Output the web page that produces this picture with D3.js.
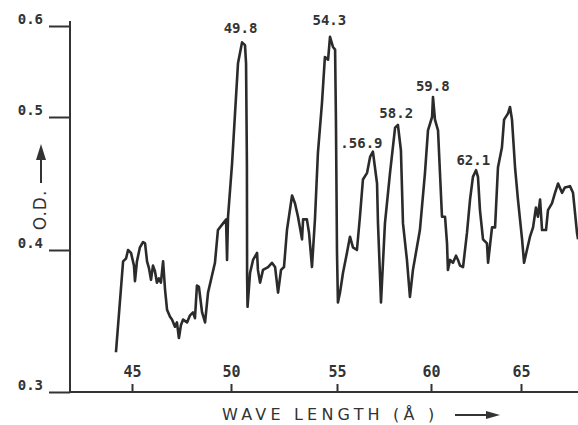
<!DOCTYPE html>
<html>
<meta charset="utf-8">
<title>O.D. spectrum</title>
<style>
  body { margin: 0; background: #fff; }
  .curve { fill: none; stroke: #2b2b2b; stroke-width: 2.6px; stroke-linejoin: round; }
  .axis line, .axis path, .axline { stroke: #333; stroke-width: 2px; }
  .axis text, .peak { font-family: "DejaVu Sans Mono", monospace; font-weight: bold; fill: #333; }
  .title { font-family: "DejaVu Sans", sans-serif; fill: #333; }
</style>
<body>
<script src="https://cdnjs.cloudflare.com/ajax/libs/d3/7.8.5/d3.min.js"></script>
<script>
// tick positions as printed on the chart
var xTicks = [45, 50, 55, 60, 65];
var yTicks = [0.3, 0.4, 0.5, 0.6];

// trace: wave length (A) and optical density
var wave = [44.19, 44.55, 44.70, 44.80, 44.95, 45.10, 45.15, 45.25, 45.40, 45.56,
  45.66, 45.76, 45.86, 45.96, 46.06, 46.16, 46.26, 46.36, 46.46, 46.57,
  46.67, 46.77, 46.92, 47.02, 47.17, 47.27, 47.37, 47.47, 47.58, 47.78,
  47.93, 48.08, 48.18, 48.28, 48.38, 48.54, 48.69, 48.84, 49.04, 49.19,
  49.34, 49.60, 49.75, 49.80, 49.85, 50.05, 50.19, 50.33, 50.52, 50.66,
  50.71, 50.75, 50.76, 50.78, 50.90, 51.04, 51.23, 51.27, 51.37, 51.51,
  51.75, 51.93, 52.08, 52.22, 52.36, 52.50, 52.64, 52.88, 53.02, 53.16,
  53.25, 53.35, 53.40, 53.58, 53.68, 53.82, 53.96, 54.10, 54.29, 54.43,
  54.58, 54.67, 54.81, 54.91, 54.95, 55.00, 55.05, 55.16, 55.32, 55.53,
  55.69, 55.85, 56.06, 56.22, 56.38, 56.60, 56.76, 56.91, 57.13, 57.18,
  57.29, 57.34, 57.55, 57.82, 58.09, 58.24, 58.40, 58.51, 58.72, 58.88,
  59.04, 59.41, 59.68, 59.84, 60.06, 60.11, 60.22, 60.39, 60.61, 60.78,
  60.89, 60.94, 61.06, 61.22, 61.39, 61.50, 61.61, 61.78, 62.00, 62.17,
  62.33, 62.50, 62.61, 62.72, 62.89, 63.11, 63.17, 63.39, 63.56, 63.72,
  63.94, 64.06, 64.28, 64.39, 64.50, 64.67, 64.83, 65.06, 65.17, 65.33,
  65.50, 65.67, 65.83, 65.94, 66.06, 66.17, 66.39, 66.50, 66.72, 66.89,
  67.06, 67.28, 67.44, 67.72, 67.89, 68.11, 68.17];
var od = [0.328, 0.392, 0.394, 0.400, 0.398, 0.389, 0.378, 0.392, 0.402, 0.406,
  0.405, 0.392, 0.387, 0.379, 0.389, 0.385, 0.377, 0.380, 0.377, 0.392,
  0.372, 0.358, 0.353, 0.351, 0.346, 0.349, 0.338, 0.347, 0.351, 0.349,
  0.354, 0.356, 0.352, 0.375, 0.374, 0.356, 0.349, 0.370, 0.382, 0.391,
  0.415, 0.420, 0.423, 0.393, 0.425, 0.465, 0.504, 0.559, 0.582, 0.579,
  0.559, 0.465, 0.381, 0.360, 0.384, 0.393, 0.398, 0.386, 0.377, 0.386,
  0.388, 0.391, 0.388, 0.370, 0.386, 0.388, 0.415, 0.441, 0.435, 0.425,
  0.417, 0.408, 0.423, 0.423, 0.413, 0.388, 0.423, 0.473, 0.515, 0.566,
  0.563, 0.588, 0.577, 0.574, 0.498, 0.398, 0.363, 0.370, 0.384, 0.398,
  0.410, 0.402, 0.400, 0.425, 0.453, 0.458, 0.470, 0.474, 0.450, 0.420,
  0.381, 0.363, 0.420, 0.458, 0.492, 0.494, 0.475, 0.420, 0.393, 0.367,
  0.386, 0.415, 0.458, 0.490, 0.500, 0.522, 0.498, 0.490, 0.425, 0.425,
  0.405, 0.386, 0.393, 0.391, 0.396, 0.393, 0.389, 0.388, 0.413, 0.438,
  0.455, 0.460, 0.455, 0.430, 0.408, 0.405, 0.391, 0.417, 0.417, 0.462,
  0.477, 0.498, 0.504, 0.511, 0.498, 0.462, 0.438, 0.408, 0.391, 0.400,
  0.410, 0.417, 0.432, 0.425, 0.438, 0.415, 0.415, 0.430, 0.435, 0.443,
  0.450, 0.443, 0.447, 0.448, 0.443, 0.413, 0.408];

// peak labels and where they sit
var peakText = ["49.8", "54.3", ".56.9", "58.2", "59.8", "62.1"];
var peakX = [50.45, 54.64, 56.3, 58.15, 60.1, 62.35];
var peakY = [0.592, 0.601, 0.477, 0.499, 0.529, 0.464];

var width = 578, height = 425;

// the printed scales are not evenly spaced, so map tick to tick
var x = d3.scaleLinear().domain(xTicks).range([132, 231, 337, 431, 521]);
var y = d3.scaleLinear().domain(yTicks).range([392, 250, 117, 26]);

var svg = d3.select("body").append("svg")
    .attr("width", width)
    .attr("height", height);

// y axis
var yAxis = svg.append("g")
    .attr("class", "axis")
    .attr("transform", "translate(70,0)")
    .call(d3.axisLeft(y).tickValues(yTicks).tickSize(21).tickSizeOuter(0)
      .tickPadding(6).tickFormat(d3.format(".1f")));
yAxis.select(".domain").remove();
yAxis.selectAll("text").style("font-size", "14px").attr("dy", "-0.15em");
svg.append("line").attr("class", "axline")
    .attr("x1", 70).attr("x2", 70).attr("y1", 21).attr("y2", y(0.3));

// x axis
var xAxis = svg.append("g")
    .attr("class", "axis")
    .attr("transform", "translate(0," + y(0.3) + ")")
    .call(d3.axisTop(x).tickValues(xTicks).tickSize(8).tickPadding(7));
xAxis.select(".domain").remove();
xAxis.selectAll("text").style("font-size", "15px");
svg.append("line").attr("class", "axline")
    .attr("x1", 70).attr("x2", width).attr("y1", y(0.3)).attr("y2", y(0.3));

// spectrum trace
var line = d3.line()
    .x(function(d, i) { return x(wave[i]); })
    .y(function(d) { return y(d); });

svg.append("path")
    .datum(od)
    .attr("class", "curve")
    .attr("d", line);

// peak labels
svg.selectAll(".peak")
    .data(peakText)
  .enter().append("text")
    .attr("class", "peak")
    .attr("x", function(d, i) { return x(peakX[i]); })
    .attr("y", function(d, i) { return y(peakY[i]); })
    .attr("text-anchor", "middle")
    .style("font-size", "14px")
    .text(function(d) { return d; });

// axis titles with arrows
svg.append("text")
    .attr("class", "title")
    .attr("x", 222).attr("y", 420)
    .style("font-size", "16px")
    .style("letter-spacing", "4.2px")
    .text("WAVE LENGTH (Å )");
svg.append("line").attr("class", "axline")
    .attr("x1", 455).attr("x2", 488).attr("y1", 415).attr("y2", 415);
svg.append("path")
    .attr("d", "M486,411 L500,415 L486,419 Z")
    .style("fill", "#333");

svg.append("text")
    .attr("class", "title")
    .attr("transform", "translate(46,210) rotate(-90)")
    .attr("text-anchor", "middle")
    .style("font-size", "17px")
    .style("letter-spacing", "1px")
    .text("O.D.");
svg.append("line").attr("class", "axline")
    .attr("x1", 41).attr("x2", 41).attr("y1", 158).attr("y2", 183);
svg.append("path")
    .attr("d", "M36,160 L41,144 L46,160 Z")
    .style("fill", "#333");
</script>
</body>
</html>
